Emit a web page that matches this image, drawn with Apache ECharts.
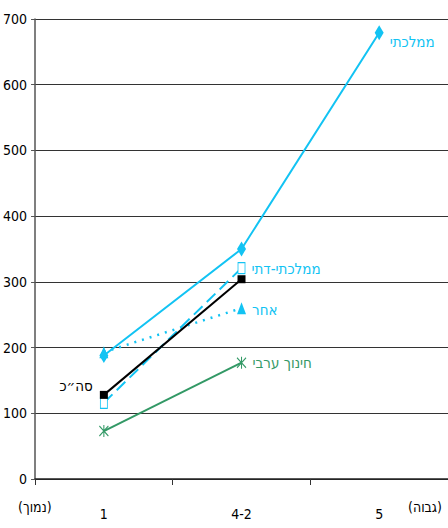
<!DOCTYPE html>
<html><head><meta charset="utf-8">
<script src="https://cdn.jsdelivr.net/npm/echarts@6/dist/echarts.min.js"></script>
<style>html,body{margin:0;padding:0;background:#fff}#c{width:448px;height:528px}</style>
</head><body><div id="c"></div>
<script>
const categories = ['1', '4-2', '5'];
const yTicks = [0, 100, 200, 300, 400, 500, 600, 700];
const mamlachti = [188, 350, 679];
const mamlachtiDati = [116, 321, null];
const acher = [193, 260, null];
const aravi = [73, 177, null];
const total = [128, 304, null];
const labels = ['ממלכתי', 'ממלכתי-דתי', 'אחר', 'חינוך ערבי', 'סה״כ'];
const lowLabel = '(נמוך)';
const highLabel = '(גבוה)';

const CYAN = '#12C3F3', GREEN = '#339966', FONT = 'DejaVu Sans Condensed, Liberation Sans Narrow, sans-serif';
const chart = echarts.init(document.getElementById('c'), null, { renderer: 'svg' });
function lastLabel(arr, text, color, extra) {
  let last = -1; arr.forEach((v, i) => { if (v != null) last = i; });
  return arr.map((v, i) => i === last ? { value: v, label: Object.assign({ show: true, formatter: text, position: 'right', color: color, fontFamily: FONT, fontSize: 15, distance: 6 }, extra || {}) } : v);
}
const asterisk = 'path://M5,0 L5,12 M0,1 L10,11 M10,1 L0,11';
chart.setOption({
  animation: false,
  grid: { left: 33, right: 0, top: 19, bottom: 49 },
  xAxis: {
    type: 'category', data: categories, boundaryGap: true,
    axisLine: { lineStyle: { color: '#222', width: 1.5 } },
    axisTick: { show: true, length: 6, lineStyle: { color: '#333' } },
    axisLabel: { color: '#000', fontFamily: FONT, fontSize: 14, margin: 28 }
  },
  yAxis: {
    type: 'value', min: 0, max: 700, interval: 100,
    axisLine: { show: true, lineStyle: { color: '#555', width: 1.5 } },
    axisTick: { show: true, length: 4, lineStyle: { color: '#555' } },
    axisLabel: { color: '#000', fontFamily: FONT, fontSize: 14, margin: 8 },
    splitLine: { lineStyle: { color: '#333', width: 1 } }
  },
  graphic: [
    { type: 'text', left: 18, top: 500, style: { text: lowLabel, fill: '#000', font: '14px ' + FONT } },
    { type: 'text', left: 408, top: 500, style: { text: highLabel, fill: '#000', font: '14px ' + FONT } }
  ],
  series: [
    { name: labels[0], type: 'line', data: lastLabel(mamlachti, labels[0], CYAN, { offset: [0, 9] }), symbol: 'diamond', symbolSize: [9, 15],
      lineStyle: { color: CYAN, width: 2 }, itemStyle: { color: CYAN } },
    { name: labels[1], type: 'line', data: lastLabel(mamlachtiDati, labels[1], CYAN, { offset: [0, 1] }), symbol: 'rect', symbolSize: [7, 11],
      lineStyle: { color: CYAN, width: 2, type: [12, 6] }, itemStyle: { color: '#fff', borderColor: CYAN, borderWidth: 1 } },
    { name: labels[2], type: 'line', data: lastLabel(acher, labels[2], CYAN, { offset: [0, 2] }), symbol: 'triangle', symbolSize: [9, 12],
      lineStyle: { color: CYAN, width: 2.5, type: [2, 6] }, itemStyle: { color: CYAN } },
    { name: labels[3], type: 'line', data: lastLabel(aravi, labels[3], GREEN), symbol: asterisk, symbolSize: [9, 12],
      lineStyle: { color: GREEN, width: 2 }, itemStyle: { color: 'transparent', borderColor: GREEN, borderWidth: 1.2 } },
    { name: labels[4], type: 'line',
      data: total.map((v, i) => i === 0 ? { value: v, label: { show: true, formatter: labels[4], position: 'left', color: '#000', fontFamily: FONT, fontSize: 15, distance: 7, offset: [0, -9] } } : v),
      symbol: 'rect', symbolSize: 8, lineStyle: { color: '#000', width: 2 }, itemStyle: { color: '#000' } }
  ]
});
</script></body></html>
